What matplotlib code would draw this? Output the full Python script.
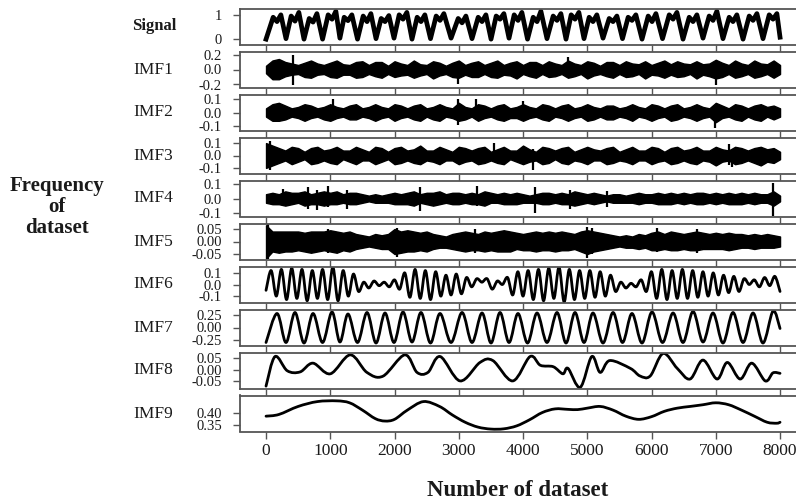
import numpy as np
import matplotlib
matplotlib.use("Agg")
import matplotlib.pyplot as plt
from matplotlib.path import Path
from matplotlib.patches import PathPatch

plt.rcParams["font.family"] = ["Liberation Serif", "DejaVu Serif"]
plt.rcParams["axes.unicode_minus"] = False

# ---------------- data ----------------
panel_names = ["Signal", "IMF1", "IMF2", "IMF3", "IMF4", "IMF5", "IMF6", "IMF7", "IMF8", "IMF9"]
x_ticks = [0, 1000, 2000, 3000, 4000, 5000, 6000, 7000, 8000]
x_tick_labels = ["0", "1000", "2000", "3000", "4000", "5000", "6000", "7000", "8000"]

y_ticks = {
    "Signal": [0, 1], "IMF1": [-0.2, 0.0, 0.2], "IMF2": [-0.1, 0.0, 0.1],
    "IMF3": [-0.1, 0.0, 0.1], "IMF4": [-0.1, 0.0, 0.1], "IMF5": [-0.05, 0.0, 0.05],
    "IMF6": [-0.1, 0.0, 0.1], "IMF7": [-0.25, 0.0, 0.25], "IMF8": [-0.05, 0.0, 0.05],
    "IMF9": [0.35, 0.40],
}
y_tick_labels = {
    "Signal": ["0", "1"], "IMF1": ["-0.2", "0.0", "0.2"], "IMF2": ["-0.1", "0.0", "0.1"],
    "IMF3": ["-0.1", "0.0", "0.1"], "IMF4": ["-0.1", "0.0", "0.1"],
    "IMF5": ["-0.05", "0.00", "0.05"], "IMF6": ["-0.1", "0.0", "0.1"],
    "IMF7": ["-0.25", "0.00", "0.25"], "IMF8": ["-0.05", "0.00", "0.05"],
    "IMF9": ["0.35", "0.40"],
}
y_limits = {
    "Signal": (-0.22, 1.26), "IMF1": (-0.24, 0.24), "IMF2": (-0.13, 0.13),
    "IMF3": (-0.145, 0.145), "IMF4": (-0.126, 0.126), "IMF5": (-0.072, 0.072),
    "IMF6": (-0.155, 0.155), "IMF7": (-0.36, 0.36), "IMF8": (-0.08, 0.072),
    "IMF9": (0.322, 0.47),
}

# Signal: troughs / double-peaked humps
signal_x = [0, 111, 171, 231, 311, 391, 451, 511, 591, 672, 732, 792, 880, 967, 1027, 1087,
            1150, 1216, 1276, 1336, 1424, 1512, 1572, 1632, 1712, 1792, 1852, 1912, 1992, 2072,
            2132, 2192, 2272, 2352, 2412, 2472, 2560, 2648, 2708, 2768, 2880, 2991, 3051, 3111,
            3206, 3302, 3362, 3422, 3502, 3582, 3642, 3702, 3782, 3862, 3922, 3982, 4070, 4158,
            4218, 4278, 4373, 4469, 4529, 4589, 4669, 4749, 4809, 4869, 4949, 5029, 5089, 5149,
            5245, 5341, 5401, 5461, 5548, 5636, 5696, 5756, 5852, 5948, 6008, 6068, 6171, 6275,
            6335, 6395, 6490, 6586, 6646, 6706, 6801, 6897, 6957, 7017, 7112, 7208, 7268, 7328,
            7424, 7520, 7580, 7640, 7735, 7831, 7891, 7951, 8000]
signal_y = [0.0,
            0.90, 0.72, 1.00, 0.02, 0.95, 0.74, 1.10, 0.00, 0.85, 0.70, 1.05, 0.00,
            1.00, 0.82, 1.15, 0.04, 0.90, 0.76, 1.00, 0.00, 0.95, 0.72, 1.05, 0.02,
            0.85, 0.72, 0.97, 0.04, 1.00, 0.82, 1.10, 0.00, 0.90, 0.72, 1.00, 0.02,
            0.95, 0.77, 1.05, 0.04, 0.85, 0.67, 0.95, 0.02, 0.90, 0.72, 1.00, 0.00,
            0.95, 0.82, 1.05, 0.04, 1.00, 0.77, 1.10, 0.00, 0.90, 0.72, 1.15, 0.02,
            0.95, 0.77, 1.05, 0.00, 1.00, 0.82, 1.10, 0.02, 0.90, 0.72, 1.00, 0.04,
            0.85, 0.72, 0.95, 0.02, 0.90, 0.77, 1.00, 0.00, 0.95, 0.72, 1.05, 0.02,
            1.00, 0.82, 1.10, 0.00, 0.90, 0.72, 1.00, 0.04, 0.95, 0.77, 1.15, 0.02,
            0.90, 0.72, 1.00, 0.00, 0.95, 0.77, 1.05, 0.02, 1.00, 0.82, 1.05, 0.08]

# dense IMFs: upper / lower envelope every 100 samples, plus isolated spikes
env_x = list(range(0, 8001, 100))

imf1_hi = [0.05, 0.12, 0.14, 0.10, 0.08, 0.06, 0.09, 0.12, 0.08, 0.06,
           0.09, 0.12, 0.07, 0.06, 0.10, 0.11, 0.06, 0.10, 0.10, 0.05,
           0.11, 0.08, 0.06, 0.12, 0.07, 0.06, 0.11, 0.09, 0.05, 0.09,
           0.12, 0.06, 0.09, 0.11, 0.06, 0.09, 0.12, 0.06, 0.09, 0.11,
           0.06, 0.10, 0.10, 0.06, 0.11, 0.08, 0.06, 0.12, 0.08, 0.06,
           0.11, 0.09, 0.05, 0.10, 0.10, 0.06, 0.11, 0.08, 0.07, 0.11,
           0.06, 0.09, 0.12, 0.07, 0.11, 0.08, 0.07, 0.11, 0.07, 0.08,
           0.13, 0.09, 0.06, 0.12, 0.08, 0.06, 0.12, 0.08, 0.07, 0.12, 0.06]
imf1_lo = [-0.05, -0.13, -0.13, -0.09, -0.07, -0.06, -0.10, -0.11, -0.07, -0.06,
           -0.10, -0.11, -0.07, -0.07, -0.11, -0.10, -0.06, -0.09, -0.11, -0.06,
           -0.10, -0.08, -0.07, -0.11, -0.08, -0.06, -0.12, -0.08, -0.06, -0.10,
           -0.11, -0.07, -0.10, -0.10, -0.06, -0.10, -0.11, -0.07, -0.08, -0.12,
           -0.06, -0.09, -0.11, -0.06, -0.10, -0.09, -0.06, -0.11, -0.09, -0.06,
           -0.12, -0.08, -0.06, -0.09, -0.11, -0.06, -0.10, -0.09, -0.06, -0.12,
           -0.07, -0.08, -0.11, -0.07, -0.10, -0.09, -0.06, -0.12, -0.07, -0.09,
           -0.12, -0.10, -0.06, -0.11, -0.09, -0.06, -0.11, -0.09, -0.06, -0.11, -0.06]
imf1_spike_x = [420, 2990, 4700, 7000]
imf1_spike_top = [0.20, 0.06, 0.17, 0.10]
imf1_spike_bot = [-0.21, -0.20, -0.08, -0.21]

imf2_hi = [0.03, 0.06, 0.07, 0.05, 0.03, 0.04, 0.06, 0.05, 0.03, 0.04,
           0.06, 0.04, 0.03, 0.05, 0.06, 0.03, 0.04, 0.06, 0.04, 0.03,
           0.06, 0.05, 0.03, 0.05, 0.06, 0.03, 0.04, 0.06, 0.04, 0.03,
           0.07, 0.04, 0.03, 0.06, 0.05, 0.03, 0.05, 0.06, 0.03, 0.04,
           0.06, 0.04, 0.03, 0.06, 0.05, 0.03, 0.05, 0.06, 0.03, 0.04,
           0.06, 0.04, 0.03, 0.05, 0.05, 0.03, 0.04, 0.06, 0.04, 0.03,
           0.06, 0.05, 0.03, 0.05, 0.06, 0.03, 0.04, 0.06, 0.04, 0.03,
           0.07, 0.05, 0.03, 0.06, 0.05, 0.03, 0.05, 0.06, 0.04, 0.05, 0.03]
imf2_lo = [-0.03, -0.06, -0.06, -0.05, -0.03, -0.04, -0.06, -0.04, -0.03, -0.05,
           -0.06, -0.04, -0.03, -0.05, -0.05, -0.03, -0.04, -0.06, -0.04, -0.03,
           -0.06, -0.04, -0.03, -0.05, -0.06, -0.03, -0.05, -0.06, -0.03, -0.04,
           -0.06, -0.05, -0.03, -0.06, -0.04, -0.03, -0.05, -0.06, -0.04, -0.04,
           -0.06, -0.04, -0.03, -0.05, -0.06, -0.03, -0.04, -0.06, -0.04, -0.03,
           -0.06, -0.05, -0.03, -0.05, -0.05, -0.03, -0.04, -0.06, -0.03, -0.04,
           -0.06, -0.04, -0.03, -0.06, -0.05, -0.03, -0.04, -0.06, -0.04, -0.03,
           -0.07, -0.04, -0.03, -0.05, -0.06, -0.03, -0.05, -0.06, -0.03, -0.05, -0.03]
imf2_spike_x = [1040, 2990, 3270, 4000, 6990]
imf2_spike_top = [0.10, 0.10, 0.10, 0.08, 0.03]
imf2_spike_bot = [-0.03, -0.09, -0.03, -0.05, -0.11]

imf3_hi = [0.10, 0.08, 0.06, 0.04, 0.07, 0.06, 0.03, 0.06, 0.07, 0.04,
           0.05, 0.07, 0.04, 0.04, 0.07, 0.05, 0.03, 0.07, 0.06, 0.03,
           0.06, 0.07, 0.04, 0.05, 0.08, 0.04, 0.04, 0.07, 0.05, 0.03,
           0.07, 0.06, 0.04, 0.06, 0.07, 0.03, 0.05, 0.07, 0.04, 0.04,
           0.08, 0.05, 0.03, 0.07, 0.06, 0.04, 0.06, 0.07, 0.03, 0.05,
           0.07, 0.05, 0.04, 0.06, 0.07, 0.03, 0.05, 0.07, 0.04, 0.04,
           0.07, 0.06, 0.03, 0.06, 0.07, 0.04, 0.05, 0.07, 0.04, 0.04,
           0.07, 0.05, 0.04, 0.07, 0.06, 0.04, 0.06, 0.07, 0.05, 0.06, 0.03]
imf3_lo = [-0.10, -0.08, -0.06, -0.04, -0.07, -0.05, -0.03, -0.07, -0.06, -0.04,
           -0.06, -0.07, -0.03, -0.05, -0.07, -0.04, -0.04, -0.07, -0.05, -0.03,
           -0.07, -0.06, -0.04, -0.06, -0.07, -0.04, -0.05, -0.07, -0.04, -0.04,
           -0.07, -0.05, -0.04, -0.07, -0.06, -0.04, -0.06, -0.07, -0.03, -0.05,
           -0.07, -0.05, -0.04, -0.07, -0.06, -0.03, -0.06, -0.07, -0.04, -0.05,
           -0.07, -0.04, -0.04, -0.07, -0.06, -0.04, -0.05, -0.07, -0.04, -0.04,
           -0.07, -0.05, -0.04, -0.07, -0.06, -0.04, -0.06, -0.07, -0.04, -0.05,
           -0.08, -0.05, -0.04, -0.07, -0.06, -0.04, -0.06, -0.08, -0.05, -0.06, -0.03]
imf3_spike_x = [60, 3550, 4155, 7200, 7250]
imf3_spike_top = [0.12, 0.10, 0.05, 0.09, 0.05]
imf3_spike_bot = [-0.12, -0.05, -0.12, -0.08, -0.09]

imf4_hi = [0.03, 0.04, 0.03, 0.05, 0.04, 0.04, 0.05, 0.03, 0.04, 0.05,
           0.04, 0.05, 0.03, 0.04, 0.04, 0.03, 0.02, 0.03, 0.02, 0.03,
           0.04, 0.03, 0.04, 0.05, 0.03, 0.04, 0.04, 0.05, 0.03, 0.04,
           0.04, 0.03, 0.04, 0.03, 0.05, 0.04, 0.03, 0.04, 0.03, 0.04,
           0.03, 0.02, 0.03, 0.04, 0.04, 0.03, 0.04, 0.03, 0.05, 0.04,
           0.03, 0.04, 0.03, 0.02, 0.03, 0.03, 0.02, 0.03, 0.04, 0.03,
           0.03, 0.04, 0.03, 0.04, 0.03, 0.04, 0.03, 0.04, 0.04, 0.03,
           0.04, 0.03, 0.04, 0.03, 0.04, 0.03, 0.04, 0.03, 0.03, 0.05, 0.02]
imf4_lo = [-0.03, -0.04, -0.04, -0.05, -0.04, -0.03, -0.05, -0.04, -0.04, -0.05,
           -0.04, -0.04, -0.03, -0.04, -0.04, -0.03, -0.02, -0.03, -0.03, -0.03,
           -0.04, -0.04, -0.04, -0.05, -0.03, -0.04, -0.05, -0.04, -0.03, -0.04,
           -0.04, -0.03, -0.04, -0.04, -0.05, -0.03, -0.03, -0.04, -0.04, -0.04,
           -0.03, -0.03, -0.03, -0.04, -0.04, -0.03, -0.04, -0.04, -0.05, -0.04,
           -0.03, -0.04, -0.03, -0.02, -0.03, -0.03, -0.03, -0.03, -0.04, -0.03,
           -0.03, -0.04, -0.04, -0.04, -0.03, -0.04, -0.03, -0.04, -0.04, -0.03,
           -0.04, -0.03, -0.04, -0.04, -0.04, -0.03, -0.04, -0.03, -0.03, -0.05, -0.02]
imf4_spike_x = [260, 650, 790, 965, 1260, 2400, 3290, 4190, 4730, 5300, 7890]
imf4_spike_top = [0.07, 0.08, 0.06, 0.09, 0.06, 0.08, 0.09, 0.08, 0.06, 0.05, 0.11]
imf4_spike_bot = [-0.05, -0.07, -0.08, -0.06, -0.07, -0.09, -0.05, -0.10, -0.07, -0.06, -0.12]

imf5_hi = [0.065, 0.04, 0.04, 0.04, 0.04, 0.04, 0.035, 0.04, 0.04, 0.04,
           0.045, 0.04, 0.035, 0.04, 0.03, 0.025, 0.02, 0.03, 0.025, 0.03,
           0.05, 0.04, 0.045, 0.04, 0.035, 0.04, 0.03, 0.025, 0.02, 0.03,
           0.035, 0.04, 0.035, 0.03, 0.04, 0.035, 0.04, 0.045, 0.04, 0.035,
           0.03, 0.035, 0.04, 0.035, 0.04, 0.035, 0.04, 0.035, 0.03, 0.04,
           0.045, 0.04, 0.035, 0.03, 0.025, 0.02, 0.025, 0.02, 0.03, 0.025,
           0.035, 0.04, 0.03, 0.04, 0.035, 0.03, 0.035, 0.04, 0.035, 0.03,
           0.035, 0.03, 0.035, 0.03, 0.03, 0.025, 0.03, 0.025, 0.03, 0.025, 0.02]
imf5_lo = [-0.068, -0.04, -0.045, -0.04, -0.04, -0.035, -0.04, -0.045, -0.04, -0.035,
           -0.04, -0.045, -0.035, -0.04, -0.03, -0.025, -0.02, -0.025, -0.03, -0.03,
           -0.05, -0.045, -0.04, -0.04, -0.035, -0.04, -0.03, -0.025, -0.025, -0.03,
           -0.035, -0.04, -0.035, -0.035, -0.04, -0.035, -0.04, -0.04, -0.04, -0.03,
           -0.035, -0.035, -0.04, -0.035, -0.035, -0.04, -0.035, -0.035, -0.03, -0.04,
           -0.05, -0.04, -0.035, -0.03, -0.025, -0.02, -0.025, -0.025, -0.03, -0.025,
           -0.035, -0.035, -0.03, -0.035, -0.035, -0.03, -0.035, -0.035, -0.03, -0.03,
           -0.03, -0.03, -0.035, -0.03, -0.025, -0.025, -0.03, -0.025, -0.025, -0.025, -0.02]
imf5_spike_x = [30, 960, 2040, 3250, 4990, 5070, 6085, 6700]
imf5_spike_top = [0.071, 0.05, 0.055, 0.05, 0.06, 0.055, 0.055, 0.05]
imf5_spike_bot = [-0.071, -0.045, -0.06, -0.045, -0.065, -0.05, -0.04, -0.045]

# IMF6: alternating extremes every 80 samples
imf6_x = list(range(0, 8001, 80))
imf6_y = [-0.05,
          0.12, -0.10, 0.13, -0.13, 0.14, -0.12, 0.13, -0.14, 0.12, -0.12,
          0.13, -0.13, 0.15, -0.14, 0.12, -0.10, 0.09, -0.06, 0.02, -0.03,
          0.03, -0.01, 0.02, -0.02, 0.04, -0.04, 0.10, -0.11, 0.13, -0.12,
          0.12, -0.13, 0.11, -0.10, 0.08, -0.09, 0.09, -0.08, 0.06, -0.02,
          0.05, 0.02, 0.05, -0.04, 0.03, 0.00, 0.06, -0.09, 0.11, -0.10,
          0.12, -0.13, 0.13, -0.14, 0.14, -0.12, 0.15, -0.15, 0.13, -0.13,
          0.12, -0.12, 0.12, -0.11, 0.11, -0.10, 0.08, -0.06, 0.02, -0.03,
          0.01, -0.02, 0.04, -0.06, 0.11, -0.12, 0.13, -0.13, 0.12, -0.12,
          0.13, -0.12, 0.12, -0.11, 0.11, -0.10, 0.10, -0.09, 0.08, -0.07,
          0.07, -0.06, 0.05, 0.00, 0.04, -0.02, 0.06, -0.01, 0.07, -0.06]

# IMF7: peaks and troughs
imf7_x = [0, 171, 311, 451, 591, 732, 880, 1027, 1150, 1276, 1424, 1572, 1712, 1852, 1992,
          2132, 2272, 2412, 2560, 2708, 2880, 3051, 3206, 3362, 3502, 3642, 3782, 3922, 4070,
          4218, 4373, 4529, 4669, 4809, 4949, 5089, 5245, 5401, 5548, 5696, 5852, 6008, 6171,
          6335, 6490, 6646, 6801, 6957, 7112, 7268, 7424, 7580, 7735, 7891, 8000]
imf7_y = [-0.30,
          0.28, -0.30, 0.30, -0.31, 0.28, -0.30, 0.31, -0.29, 0.27, -0.30,
          0.30, -0.31, 0.29, -0.30, 0.31, -0.29, 0.30, -0.31, 0.28, -0.30,
          0.30, -0.30, 0.29, -0.31, 0.30, -0.30, 0.28, -0.31, 0.29, -0.30,
          0.30, -0.31, 0.30, -0.30, 0.29, -0.31, 0.30, -0.30, 0.28, -0.31,
          0.31, -0.30, 0.29, -0.30, 0.32, -0.29, 0.29, -0.31, 0.30, -0.30,
          0.29, -0.31, 0.33,
          -0.02]

imf8_x = [0, 140, 330, 530, 730, 1000, 1310, 1570, 1820, 2160, 2350, 2520, 2710, 3020, 3330,
          3530, 3840, 4110, 4270, 4470, 4620, 4700, 4890, 5070, 5200, 5350, 5670, 5820, 5980,
          6180, 6400, 6600, 6800, 7020, 7180, 7380, 7560, 7770, 7890, 8000]
imf8_y = [-0.07, 0.055, -0.005, -0.01, 0.027, -0.018, 0.062, -0.012, -0.028, 0.062,
          -0.012, -0.012, 0.055, -0.048, 0.03, 0.038, -0.048, 0.055, 0.018, 0.012,
          -0.018, 0.005, -0.075, 0.055, -0.012, 0.038, 0.005, -0.027, -0.027, 0.068,
          0.005, -0.04, 0.04, -0.04, 0.03, -0.04, 0.027, -0.048, -0.014, -0.016]

imf9_x = [0, 200, 500, 800, 1100, 1300, 1500, 1700, 1850, 2000, 2200, 2450, 2700, 2900, 3100,
          3300, 3500, 3700, 3900, 4100, 4300, 4500, 4700, 4850, 5000, 5200, 5400, 5600, 5800,
          6000, 6200, 6400, 6600, 6800, 7000, 7200, 7400, 7600, 7800, 7950, 8000]
imf9_y = [0.385, 0.392, 0.425, 0.445, 0.448, 0.44, 0.41, 0.375, 0.365, 0.372,
          0.41, 0.445, 0.425, 0.39, 0.36, 0.34, 0.332, 0.333, 0.345, 0.37,
          0.40, 0.415, 0.413, 0.412, 0.418, 0.425, 0.41, 0.385, 0.372, 0.383,
          0.405, 0.418, 0.425, 0.432, 0.44, 0.432, 0.41, 0.385, 0.36, 0.356, 0.36]

dense = {
    "IMF1": (imf1_hi, imf1_lo, imf1_spike_x, imf1_spike_top, imf1_spike_bot),
    "IMF2": (imf2_hi, imf2_lo, imf2_spike_x, imf2_spike_top, imf2_spike_bot),
    "IMF3": (imf3_hi, imf3_lo, imf3_spike_x, imf3_spike_top, imf3_spike_bot),
    "IMF4": (imf4_hi, imf4_lo, imf4_spike_x, imf4_spike_top, imf4_spike_bot),
    "IMF5": (imf5_hi, imf5_lo, imf5_spike_x, imf5_spike_top, imf5_spike_bot),
}
smooth = {"IMF6": (imf6_x, imf6_y), "IMF7": (imf7_x, imf7_y),
          "IMF8": (imf8_x, imf8_y), "IMF9": (imf9_x, imf9_y)}


def smooth_path(xs, ys):
    """Bezier path passing through the given points (Catmull-Rom tangents)."""
    p = np.column_stack([np.asarray(xs, float), np.asarray(ys, float)])
    verts = [p[0]]
    codes = [Path.MOVETO]
    n = len(p)
    for i in range(n - 1):
        p0 = p[i - 1] if i > 0 else p[i]
        p1, p2 = p[i], p[i + 1]
        p3 = p[i + 2] if i + 2 < n else p[i + 1]
        verts += [p1 + (p2 - p0) / 6.0, p2 - (p3 - p1) / 6.0, p2]
        codes += [Path.CURVE4] * 3
    return Path(verts, codes)


# ---------------- figure ----------------
W, H = 796, 504
fig = plt.figure(figsize=(W / 100, H / 100), dpi=100)
fig.patch.set_facecolor("white")

LEFT, RIGHT = 240.0, 800.6
TOP0, PANEL_H, PITCH = 8.5, 36.0, 43.0
spine_col = "#555555"
txt_col = "#1a1a1a"

for i, name in enumerate(panel_names):
    top = TOP0 + i * PITCH
    ax = fig.add_axes([LEFT / W, 1 - (top + PANEL_H) / H, (RIGHT - LEFT) / W, PANEL_H / H])
    ax.set_xlim(-405, 8320)
    ax.set_ylim(*y_limits[name])
    for s in ax.spines.values():
        s.set_color(spine_col)
        s.set_linewidth(1.3)
    ax.spines["right"].set_visible(False)

    if name == "Signal":
        ax.plot(signal_x, signal_y, color="black", lw=3.4, solid_joinstyle="round")
    elif name in dense:
        hi, lo, sx, st, sb = dense[name]
        ax.fill_between(env_x, lo, hi, facecolor="black", edgecolor="black", lw=1.0)
        ax.vlines(sx, sb, st, color="black", lw=1.6)
    else:
        xs, ys = smooth[name]
        ax.add_patch(PathPatch(smooth_path(xs, ys), fill=False, edgecolor="black",
                               lw=2.0, joinstyle="round", capstyle="round"))

    ax.set_yticks(y_ticks[name])
    ax.set_yticklabels(y_tick_labels[name])
    ax.set_xticks(x_ticks)
    if i == len(panel_names) - 1:
        ax.set_xticklabels(x_tick_labels)
    else:
        ax.set_xticklabels([])
    ax.tick_params(axis="both", direction="out", length=5, width=1.0, color=spine_col)
    ax.tick_params(axis="y", labelsize=10.5, pad=8, labelcolor=txt_col)
    ax.tick_params(axis="x", labelsize=12.5, pad=3, labelcolor=txt_col)

    cy = 1 - (top + PANEL_H / 2) / H
    if name == "Signal":
        fig.text(154 / W, cy, name, ha="center", va="center", fontsize=12,
                 fontweight="bold", color=txt_col)
    else:
        fig.text(153 / W, cy, name, ha="center", va="center", fontsize=12.5, color=txt_col)

fig.text(57 / W, 1 - 207 / H, "Frequency\nof\ndataset", ha="center", va="center",
         fontsize=15, fontweight="bold", linespacing=1.05, color=txt_col)
fig.text(518 / W, 1 - 491 / H, "Number of dataset", ha="center", va="center",
         fontsize=16.5, fontweight="bold", color=txt_col)

fig.savefig("out.png", dpi=100, facecolor="white")
